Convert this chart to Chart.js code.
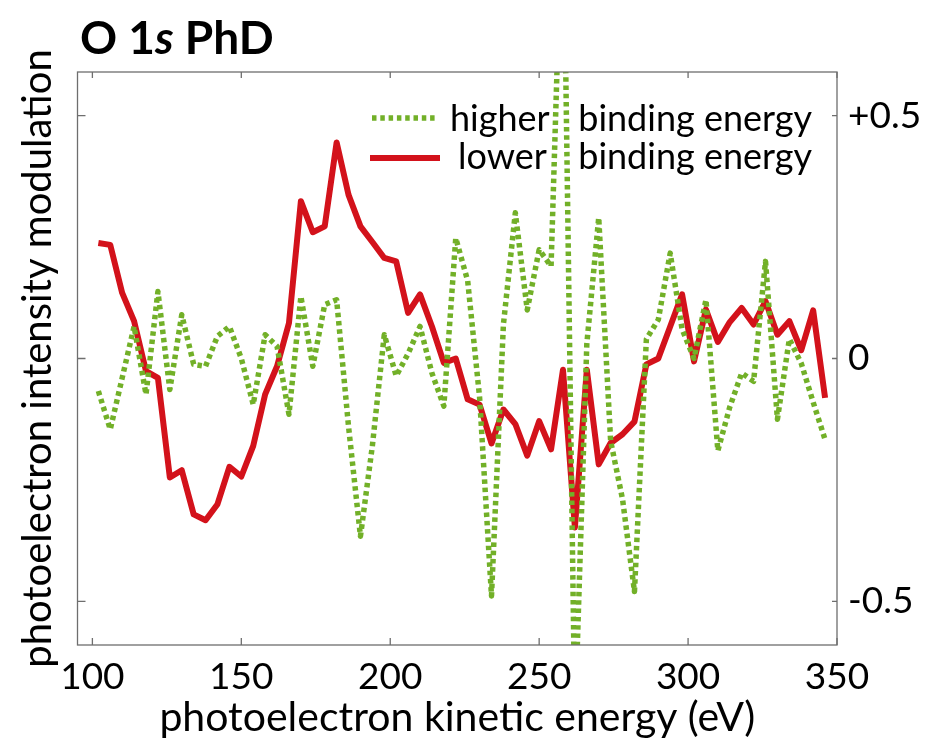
<!DOCTYPE html>
<html>
<head>
<meta charset="utf-8">
<script src="https://cdn.jsdelivr.net/npm/chart.js@4.4.1/dist/chart.umd.min.js"></script>
<style>
  body { margin: 0; background: #fff; }
  canvas { display: block; }
</style>
</head>
<body>
<canvas id="phdChart" width="926" height="744"></canvas>
<script>
// kinetic energy grid (eV)
const energy = [
  102, 106, 110, 114, 118, 122, 126, 130, 134, 138,
  142, 146, 150, 154, 158, 162, 166, 170, 174, 178,
  182, 186, 190, 194, 198, 202, 206, 210, 214, 218,
  222, 226, 230, 234, 238, 242, 246, 250, 254, 258,
  262, 266, 270, 274, 278, 282, 286, 290, 294, 298,
  302, 306, 310, 314, 318, 322, 326, 330, 334, 338,
  342, 346
];

// modulation, higher binding energy component
const higherBE = [
  -0.067, -0.146, -0.040, 0.066, -0.074, 0.138, -0.064, 0.090, -0.012, -0.016,
  0.046, 0.066, 0.000, -0.095, 0.049, 0.025, -0.115, 0.128, -0.016, 0.111,
  0.121, -0.140, -0.366, -0.180, 0.049, -0.036, 0.010, 0.066, -0.030, -0.098,
  0.248, 0.160, -0.080, -0.489, 0.070, 0.300, 0.100, 0.224, 0.190, 1.000,
  -0.750, 0.030, 0.290, -0.170, -0.290, -0.480, 0.040, 0.080, 0.217, 0.060,
  0.000, 0.121, -0.190, -0.100, -0.030, -0.047, 0.200, -0.125, 0.040, -0.010,
  -0.090, -0.167
];

// modulation, lower binding energy component
const lowerBE = [
  0.238, 0.234, 0.135, 0.077, -0.026, -0.040, -0.245, -0.230, -0.321, -0.333,
  -0.300, -0.223, -0.243, -0.180, -0.074, -0.016, 0.073, 0.324, 0.260, 0.272,
  0.445, 0.337, 0.272, 0.240, 0.207, 0.200, 0.094, 0.132, 0.066, -0.009,
  0.000, -0.084, -0.095, -0.175, -0.105, -0.135, -0.200, -0.129, -0.187, -0.023,
  -0.348, -0.023, -0.218, -0.174, -0.156, -0.130, -0.012, 0.000, 0.066, 0.132,
  -0.006, 0.101, 0.034, 0.075, 0.104, 0.070, 0.118, 0.049, 0.077, 0.017,
  0.099, -0.081
];

const xTicks = [100, 150, 200, 250, 300, 350];
const yTicks = [-0.5, 0, 0.5];

const FONT = 'Lato, "Open Sans", sans-serif';
const GREEN = '#72b028';
const RED = '#d3121b';

const toPoints = ys => energy.map((e, i) => ({ x: e, y: ys[i] }));

// frame with inward ticks, heading and in-plot legend
const decorations = {
  id: 'decorations',
  afterDatasetsDraw(chart) {
    const { ctx, chartArea: a, scales } = chart;
    ctx.save();

    ctx.strokeStyle = '#6e6e6e';
    ctx.lineWidth = 1.3;
    ctx.strokeRect(a.left, a.top, a.right - a.left, a.bottom - a.top);
    ctx.beginPath();
    xTicks.forEach(v => {
      const px = scales.x.getPixelForValue(v);
      ctx.moveTo(px, a.bottom); ctx.lineTo(px, a.bottom - 7);
      ctx.moveTo(px, a.top); ctx.lineTo(px, a.top + 6);
    });
    yTicks.forEach(v => {
      const py = scales.y.getPixelForValue(v);
      ctx.moveTo(a.left, py); ctx.lineTo(a.left + 8, py);
      ctx.moveTo(a.right, py); ctx.lineTo(a.right - 5, py);
    });
    ctx.stroke();

    // heading "O 1s PhD" with italic s
    ctx.fillStyle = '#000';
    ctx.textBaseline = 'alphabetic';
    let x = 80;
    const parts = [['O 1', 'bold'], ['s', 'italic bold'], [' PhD', 'bold']];
    parts.forEach(([t, style]) => {
      ctx.font = style + ' 46px ' + FONT;
      ctx.fillText(t, x, 54);
      x += ctx.measureText(t).width;
    });

    // legend
    const [hi, lo] = chart.data.datasets;
    ctx.lineCap = 'butt';
    ctx.beginPath();
    ctx.strokeStyle = hi.borderColor;
    ctx.lineWidth = hi.borderWidth;
    ctx.setLineDash(hi.borderDash);
    ctx.moveTo(372, 118); ctx.lineTo(437, 118);
    ctx.stroke();
    ctx.beginPath();
    ctx.strokeStyle = lo.borderColor;
    ctx.lineWidth = lo.borderWidth;
    ctx.setLineDash([]);
    ctx.moveTo(370, 158); ctx.lineTo(440, 158);
    ctx.stroke();

    ctx.font = '36px ' + FONT;
    ctx.fillStyle = '#000';
    ctx.textAlign = 'left';
    ctx.fillText('higher', 450, 131);
    ctx.fillText('lower', 458, 169);
    ctx.textAlign = 'right';
    ctx.fillText('binding energy', 812, 131);
    ctx.fillText('binding energy', 812, 169);
    ctx.restore();
  }
};

const chart = new Chart(document.getElementById('phdChart').getContext('2d'), {
  type: 'line',
  data: {
    datasets: [{
      label: 'higher binding energy',
      data: toPoints(higherBE),
      borderColor: GREEN,
      borderWidth: 5.5,
      borderDash: [4.5, 3.8],
      borderCapStyle: 'butt',
      borderJoinStyle: 'round',
      pointRadius: 0,
      tension: 0,
      clip: 0,
      yAxisID: 'y'
    }, {
      label: 'lower binding energy',
      data: toPoints(lowerBE),
      borderColor: RED,
      borderWidth: 6,
      borderJoinStyle: 'round',
      pointRadius: 0,
      tension: 0,
      clip: 0,
      yAxisID: 'y'
    }]
  },
  options: {
    responsive: false,
    animation: false,
    layout: { padding: { top: 72, left: 0, right: 0, bottom: 0 } },
    plugins: {
      legend: { display: false },
      tooltip: { enabled: false }
    },
    scales: {
      x: {
        type: 'linear',
        min: 95,
        max: 350,
        afterBuildTicks: s => { s.ticks = xTicks.map(v => ({ value: v })); },
        afterFit: s => { s.height = 99; },
        grid: { display: false, drawTicks: false },
        border: { display: false },
        ticks: { color: '#000', padding: 10, font: { family: FONT, size: 37 } },
        title: {
          display: true,
          text: 'photoelectron kinetic energy (eV)',
          color: '#000',
          font: { family: FONT, size: 41 },
          padding: { top: 0, bottom: 2 }
        }
      },
      yl: {
        position: 'left',
        min: -0.59,
        max: 0.59,
        afterFit: s => { s.width = 77.5; },
        grid: { display: false, drawTicks: false },
        border: { display: false },
        ticks: { display: false },
        title: {
          display: true,
          text: 'photoelectron intensity modulation',
          color: '#000',
          font: { family: FONT, size: 40 },
          padding: { top: 14, bottom: 0 }
        }
      },
      y: {
        position: 'right',
        min: -0.59,
        max: 0.59,
        afterBuildTicks: s => { s.ticks = yTicks.map(v => ({ value: v })); },
        afterFit: s => { s.width = 89; },
        grid: { display: false, drawTicks: false },
        border: { display: false },
        ticks: {
          color: '#000',
          padding: 11,
          font: { family: FONT, size: 37 },
          callback: v => (v > 0 ? '+' + v : String(v))
        }
      }
    }
  },
  plugins: [decorations]
});
</script>
</body>
</html>
